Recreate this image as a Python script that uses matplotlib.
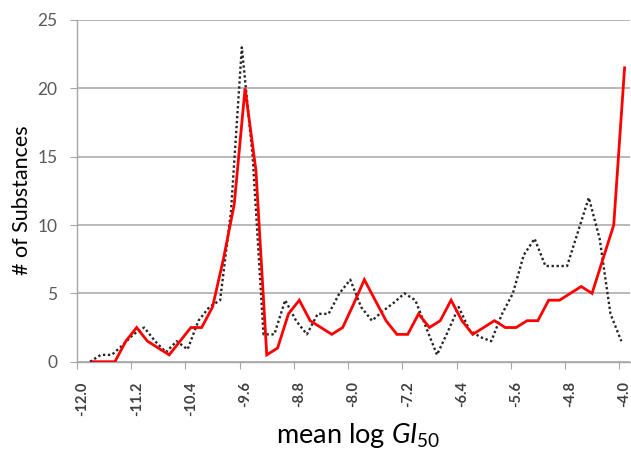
import matplotlib
matplotlib.use("Agg")
import matplotlib.pyplot as plt
import numpy as np

plt.rcParams['font.family'] = ['Lato', 'DejaVu Sans']
plt.rcParams['mathtext.fontset'] = 'custom'
plt.rcParams['mathtext.rm'] = 'Lato'
plt.rcParams['mathtext.it'] = 'Lato:italic'

# Tick labels shown under every 5th category (category step 0.16)
tick_labels = ["-12.0", "-11.2", "-10.4", "-9.6", "-8.8", "-8.0",
               "-7.2", "-6.4", "-5.6", "-4.8", "-4.0"]

# number of substances per category (51 categories, first empty)
red_counts = [np.nan, 0, 0, 0, 1.5, 2.5, 1.5, 1, 0.5, 1.5,
              2.5, 2.5, 4, 7.5, 11.5, 20, 14, 0.5, 1, 3.5,
              4.5, 3, 2.5, 2, 2.5, 4.2, 6, 4.5, 3, 2,
              2, 3.5, 2.5, 3, 4.5, 3, 2, 2.5, 3, 2.5,
              2.5, 3, 3, 4.5, 4.5, 5, 5.5, 5, 7.5, 10,
              21.5]
black_counts = [np.nan, 0, 0.5, 0.5, 1.2, 2, 2.5, 1.5, 0.7, 1.5,
                0.9, 3, 4, 4.5, 11, 23, 15, 2, 2, 4.5,
                3, 2, 3.5, 3.5, 5, 6, 4, 3, 3.7, 4.3,
                5, 4.5, 2.5, 0.5, 2.2, 4, 2.3, 1.8, 1.5, 3.5,
                5, 7.8, 9, 7, 7, 7, 9.5, 12, 9, 3.5,
                1.5]

W, H = 631, 453
fig = plt.figure(figsize=(W / 100, H / 100), dpi=100)
left, right, top, bottom = 77, 630, 20, 361.7
ax = fig.add_axes([left / W, 1 - bottom / H, (right - left) / W, (bottom - top) / H])

x = np.arange(len(red_counts))
# the dotted series sits slightly left of the category centres in the original
ax.plot(x - 0.3, black_counts, color='#262626', lw=1.7, linestyle=(0, (1, 1.1)), zorder=3)
ax.plot(x, red_counts, color='#ff0000', lw=2.0, zorder=4, solid_joinstyle='miter')

ax.set_xlim(-0.5, len(red_counts) - 0.5)
ax.set_ylim(0, 25)

ax.set_yticks([0, 5, 10, 15, 20, 25])
ax.yaxis.grid(True, color='#b3b3b3', lw=1.3)
ax.set_axisbelow(True)

for s in ['top', 'right']:
    ax.spines[s].set_visible(False)
for s in ['left', 'bottom']:
    ax.spines[s].set_color('#a6a6a6')
    ax.spines[s].set_linewidth(1.0)

ax.tick_params(axis='y', direction='out', length=5, color='#a6a6a6',
               labelsize=12.5, labelcolor='#595959', pad=9)

# major x ticks at category boundaries, labels at category centres
ax.set_xticks(np.arange(-0.5, len(red_counts), 5))
ax.set_xticklabels([])
ax.set_xticks(np.arange(0, len(red_counts), 5), minor=True)
ax.set_xticklabels(tick_labels, minor=True, rotation=90, fontweight='bold')
ax.tick_params(axis='x', which='major', direction='out', length=5, color='#a6a6a6')
ax.tick_params(axis='x', which='minor', length=0, labelsize=10.5,
               labelcolor='#404040', pad=14)

fig.text(22 / W, 1 - 200 / H, "# of Substances", rotation=90, ha='center',
         va='center', fontsize=15.5, color='#000000')
fig.text(358 / W, 1 - 436 / H, r"mean log $\mathit{GI_{50}}$", ha='center',
         va='center', fontsize=19.5, color='#000000')

fig.savefig("out.png", dpi=100)
